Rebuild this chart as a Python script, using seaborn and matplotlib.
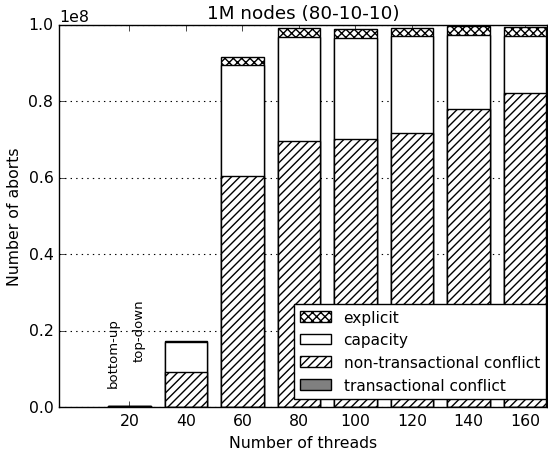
import matplotlib
matplotlib.use("Agg")
import matplotlib.pyplot as plt
import matplotlib.patches as mpatches
import numpy as np
import pandas as pd
import seaborn as sns

# Data (values in millions of aborts)
threads = ["20", "40", "60", "80", "100", "120", "140", "160"]
transactional = [0.02, 0.05, 0.1, 0.1, 0.1, 0.1, 0.1, 0.1]
non_transactional = [0.15, 9.1, 60.45, 69.45, 70.0, 71.7, 78.0, 82.1]
capacity = [0.1, 7.85, 29.05, 27.35, 26.5, 25.2, 19.2, 14.8]
explicit = [0.05, 0.3, 1.95, 2.3, 2.45, 2.2, 2.35, 2.5]
series_labels = ["explicit", "capacity", "non-transactional conflict", "transactional conflict"]
annotations = ["bottom-up", "top-down"]

plt.style.use("classic")
plt.rcParams.update({
    "figure.facecolor": "white",
    "savefig.facecolor": "white",
    "font.family": ["DejaVu Sans"],
    "font.size": 11.3,
    "axes.axisbelow": True,
    "hatch.linewidth": 1.0,
})

df = pd.DataFrame({"threads": threads})
df["trans"] = np.array(transactional) * 1e6
df["nontrans"] = df["trans"] + np.array(non_transactional) * 1e6
df["capacity"] = df["nontrans"] + np.array(capacity) * 1e6
df["explicit"] = df["capacity"] + np.array(explicit) * 1e6

fig = plt.figure(figsize=(5.48, 4.52), dpi=100)
ax = fig.add_axes([0.1077, 0.0973, 0.998 - 0.1077, 0.9425 - 0.0973])

layers = [
    ("explicit", "white", "xxxx"),
    ("capacity", "white", None),
    ("nontrans", "white", "////"),
    ("trans", "#808080", None),
]
for col, fc, hatch in layers:
    n_before = len(ax.patches)
    sns.barplot(data=df, x="threads", y=col, order=threads, color=fc,
                saturation=1, width=0.75, errorbar=None, edgecolor="black",
                linewidth=1.0, ax=ax)
    for p in ax.patches[n_before:]:
        p.set_hatch(hatch)

ax.set_xlim(-1.245, 7.39)
ax.set_ylim(0, 1.0e8)
ax.set_yticks(np.arange(0, 1.01e8, 0.2e8))
ax.set_xticks(range(len(threads)))
ax.set_xticklabels(threads)
ax.yaxis.grid(True, linestyle=":", color="black", linewidth=0.8)
ax.xaxis.grid(False)
ax.tick_params(direction="in", top=True, right=True, length=4, labelsize=11.3)
ax.set_xlabel("Number of threads", fontsize=11.3)
ax.set_ylabel("Number of aborts", fontsize=11.3)
ax.set_title("1M nodes (80-10-10)", fontsize=13.2)

ax.text(-0.283, 0.052e8, annotations[0], rotation=90, ha="center", va="bottom", fontsize=9.5)
ax.text(0.17, 0.12e8, annotations[1], rotation=90, ha="center", va="bottom", fontsize=9.5)

handles = [
    mpatches.Patch(facecolor="white", edgecolor="black", hatch="xxxx", label=series_labels[0]),
    mpatches.Patch(facecolor="white", edgecolor="black", label=series_labels[1]),
    mpatches.Patch(facecolor="white", edgecolor="black", hatch="////", label=series_labels[2]),
    mpatches.Patch(facecolor="#808080", edgecolor="black", label=series_labels[3]),
]
leg = ax.legend(handles=handles, loc="lower right", bbox_to_anchor=(0.998, 0.021),
                borderaxespad=0, fancybox=False, fontsize=11.1, frameon=True)
leg.get_frame().set_edgecolor("black")

fig.savefig("out.png", dpi=100)
